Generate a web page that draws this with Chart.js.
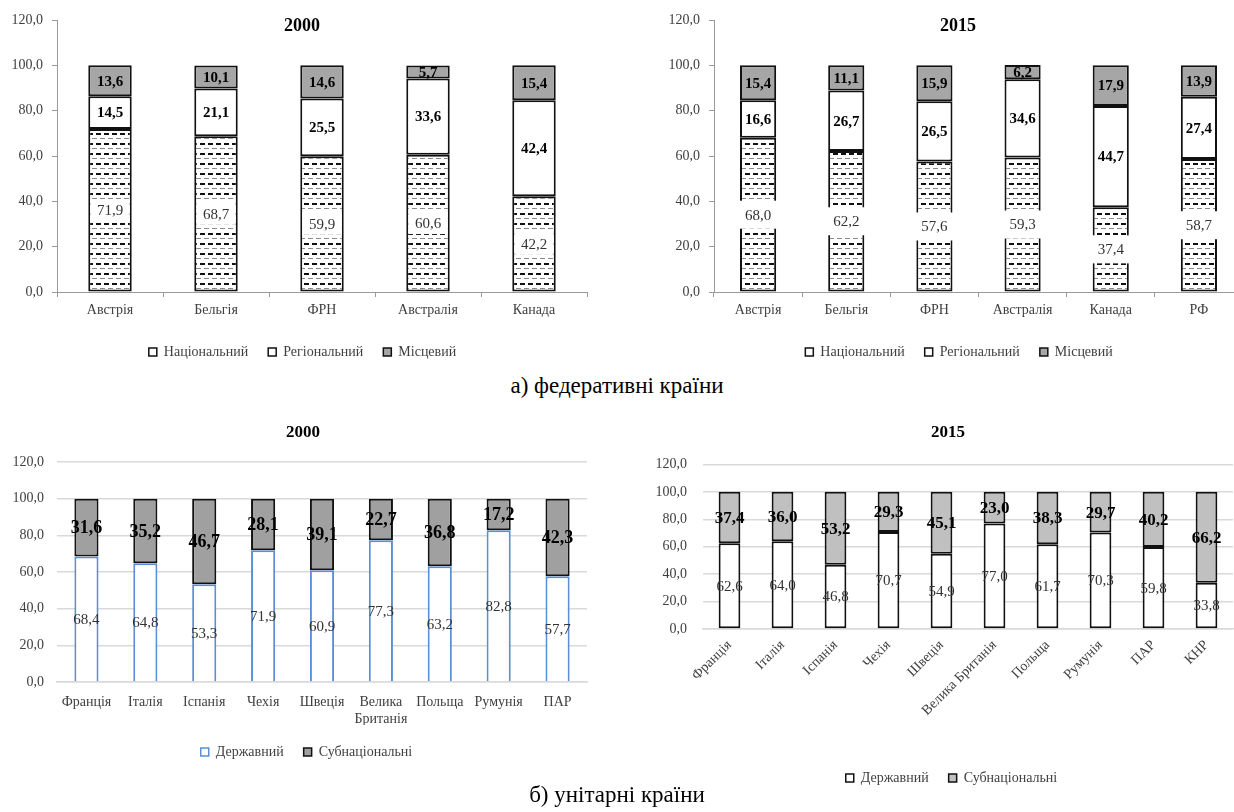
<!DOCTYPE html>
<html>
<head>
<meta charset="utf-8">
<script src="https://cdn.jsdelivr.net/npm/chart.js@4.4.0/dist/chart.umd.min.js"></script>
<style>
  body { margin:0; width:1234px; height:812px; overflow:hidden; background:#fff; position:relative; font-family:"Liberation Serif", serif; }
  .box { position:absolute; }
  .ttl { position:absolute; font-weight:bold; transform:translate(-50%,-50%); color:#000; white-space:nowrap; }
  .cap { position:absolute; font-size:23px; transform:translate(-50%,-50%); color:#000; white-space:nowrap; }
</style>
</head>
<body>
<div class="box" style="left:0;top:0;width:604px;height:369px"><canvas id="c1"></canvas></div>
<div class="box" style="left:657px;top:0;width:602px;height:369px"><canvas id="c2"></canvas></div>
<div class="box" style="left:0;top:440px;width:606px;height:329px"><canvas id="c3"></canvas></div>
<div class="box" style="left:646px;top:440px;width:609px;height:355px"><canvas id="c4"></canvas></div>

<div class="ttl" style="left:302px;top:25px;font-size:18px">2000</div>
<div class="ttl" style="left:958px;top:25px;font-size:18px">2015</div>
<div class="ttl" style="left:303px;top:432px;font-size:17px">2000</div>
<div class="ttl" style="left:948px;top:432px;font-size:17px">2015</div>
<div class="cap" style="left:617px;top:386px">а) федеративні країни</div>
<div class="cap" style="left:617px;top:795px">б) унітарні країни</div>

<script>
// federal countries
const fedCats2000 = ['Австрія', 'Бельгія', 'ФРН', 'Австралія', 'Канада'];
const fedNat2000 = [71.9, 68.7, 59.9, 60.6, 42.2];
const fedReg2000 = [14.5, 21.1, 25.5, 33.6, 42.4];
const fedLoc2000 = [13.6, 10.1, 14.6, 5.7, 15.4];

const fedCats2015 = ['Австрія', 'Бельгія', 'ФРН', 'Австралія', 'Канада', 'РФ'];
const fedNat2015 = [68.0, 62.2, 57.6, 59.3, 37.4, 58.7];
const fedReg2015 = [16.6, 26.7, 26.5, 34.6, 44.7, 27.4];
const fedLoc2015 = [15.4, 11.1, 15.9, 6.2, 17.9, 13.9];

// unitary countries
const unitCats2000 = ['Франція', 'Італія', 'Іспанія', 'Чехія', 'Швеція', ['Велика', 'Британія'], 'Польща', 'Румунія', 'ПАР'];
const unitState2000 = [68.4, 64.8, 53.3, 71.9, 60.9, 77.3, 63.2, 82.8, 57.7];
const unitSub2000 = [31.6, 35.2, 46.7, 28.1, 39.1, 22.7, 36.8, 17.2, 42.3];

const unitCats2015 = ['Франція', 'Італія', 'Іспанія', 'Чехія', 'Швеція', 'Велика Британія', 'Польща', 'Румунія', 'ПАР', 'КНР'];
const unitState2015 = [62.6, 64.0, 46.8, 70.7, 54.9, 77.0, 61.7, 70.3, 59.8, 33.8];
const unitSub2015 = [37.4, 36.0, 53.2, 29.3, 45.1, 23.0, 38.3, 29.7, 40.2, 66.2];

const fedSeries = ['Національний', 'Регіональний', 'Місцевий'];
const unitSeries = ['Державний', 'Субнаціональні'];

const FONT = '"Liberation Serif", serif';
Chart.defaults.font.family = FONT;
Chart.defaults.font.size = 14;
Chart.defaults.color = '#404040';
Chart.defaults.animation = false;

const fmt = v => Number(v).toFixed(1).replace('.', ',');

// dashed fill for the national share
function dashPattern() {
  const c = document.createElement('canvas');
  c.width = 8; c.height = 10;
  const g = c.getContext('2d');
  g.fillStyle = '#fff';
  g.fillRect(0, 0, 8, 10);
  g.fillStyle = '#111';
  g.fillRect(0, 3, 5, 2);
  g.fillStyle = '#8a8a8a';
  g.fillRect(4, 8, 4, 1);
  g.fillRect(0, 8, 1, 1);
  return g.createPattern(c, 'repeat');
}

const valueLabels = {
  id: 'valueLabels',
  afterDatasetsDraw(chart, args, opts) {
    const ctx = chart.ctx;
    chart.data.datasets.forEach((ds, di) => {
      const st = opts.styles[di];
      const meta = chart.getDatasetMeta(di);
      meta.data.forEach((bar, i) => {
        const p = bar.getProps(['x', 'y', 'base', 'width'], true);
        const cy = (p.y + p.base) / 2;
        const txt = fmt(ds.data[i]);
        ctx.save();
        ctx.font = (st.bold ? 'bold ' : '') + st.size + 'px ' + FONT;
        ctx.textAlign = 'center';
        ctx.textBaseline = 'middle';
        if (st.bg) {
          const w = p.width + st.bg.dw;
          ctx.fillStyle = '#fff';
          ctx.fillRect(p.x - w / 2, cy - st.bg.h / 2, w, st.bg.h);
        }
        ctx.fillStyle = st.color;
        ctx.fillText(txt, p.x, cy + 1);
        ctx.restore();
      });
    });
  }
};

// nudge the legend sideways so it sits under the title
const legendShift = {
  id: 'legendShift',
  afterLayout(chart, args, opts) {
    const l = chart.legend;
    if (!l) return;
    l.left += opts.dx;
    l.right += opts.dx;
  }
};

function legendOpts() {
  return {
    position: 'bottom',
    labels: {
      boxWidth: 8, boxHeight: 8, padding: 20,
      font: { size: 14 },
      generateLabels(chart) {
        const items = Chart.defaults.plugins.legend.labels.generateLabels(chart);
        items.forEach(it => {
          if (typeof it.fillStyle !== 'string') it.fillStyle = '#fff';
          it.lineWidth = 1.5;
        });
        return items;
      }
    }
  };
}

function fedChart(id, cats, nat, reg, loc, padR, bg, dx) {
  const pat = dashPattern();
  return new Chart(document.getElementById(id), {
    type: 'bar',
    data: {
      labels: cats,
      datasets: [
        { label: fedSeries[0], data: nat, backgroundColor: pat, borderColor: '#111', borderWidth: 2, borderSkipped: false },
        { label: fedSeries[1], data: reg, backgroundColor: '#fff', borderColor: '#111', borderWidth: 2, borderSkipped: false },
        { label: fedSeries[2], data: loc, backgroundColor: '#a6a6a6', borderColor: '#111', borderWidth: 2, borderSkipped: false }
      ]
    },
    options: {
      responsive: true, maintainAspectRatio: false,
      layout: { padding: { top: 20, right: padR, left: 0, bottom: 0 } },
      datasets: { bar: { categoryPercentage: 1, barPercentage: 0.41 } },
      scales: {
        x: {
          stacked: true,
          ticks: { padding: 5, autoSkip: false, maxRotation: 0 },
          grid: { offset: true, drawOnChartArea: false, tickLength: 5, color: '#9a9a9a' },
          border: { color: '#9a9a9a' },
          afterFit(s) { s.height = 33; }
        },
        y: {
          stacked: true, min: 0, max: 120,
          ticks: { stepSize: 20, padding: 9, callback: v => fmt(v) },
          grid: { drawOnChartArea: false, tickLength: 5, color: '#9a9a9a' },
          border: { color: '#9a9a9a' },
          afterFit(s) { s.width = 57; }
        }
      },
      plugins: {
        legend: legendOpts(),
        legendShift: { dx: dx },
        tooltip: { enabled: false },
        valueLabels: {
          styles: [
            { size: 15, bold: false, color: '#333', bg: bg },
            { size: 15, bold: true, color: '#000' },
            { size: 15, bold: true, color: '#000' }
          ]
        }
      }
    },
    plugins: [valueLabels, legendShift]
  });
}

function unitChart(id, cats, state, sub, o) {
  return new Chart(document.getElementById(id), {
    type: 'bar',
    data: {
      labels: cats,
      datasets: [
        { label: unitSeries[0], data: state, backgroundColor: '#fff', borderColor: o.stateBorder, borderWidth: 2, borderSkipped: o.stateSkip },
        { label: unitSeries[1], data: sub, backgroundColor: o.subFill, borderColor: '#111', borderWidth: 2, borderSkipped: false }
      ]
    },
    options: {
      responsive: true, maintainAspectRatio: false,
      layout: { padding: { top: o.padT, right: o.padR, left: 0, bottom: 0 } },
      datasets: { bar: { categoryPercentage: 1, barPercentage: 0.41 } },
      scales: {
        x: {
          stacked: true,
          ticks: { padding: o.xPad, autoSkip: false, minRotation: o.rot, maxRotation: o.rot },
          grid: { display: false, drawTicks: false },
          border: { color: '#d9d9d9', width: 1.5 },
          afterFit(s) { s.height = o.xH; }
        },
        y: {
          stacked: true, min: 0, max: 120,
          ticks: { stepSize: 20, padding: o.yPad, callback: v => fmt(v) },
          grid: { color: '#d9d9d9', lineWidth: 1.5, drawTicks: false },
          border: { display: false },
          afterFit(s) { s.width = 57; }
        }
      },
      plugins: {
        legend: legendOpts(),
        legendShift: { dx: o.dx },
        tooltip: { enabled: false },
        valueLabels: {
          styles: [
            { size: 15, bold: false, color: '#333' },
            { size: o.boldSize, bold: true, color: '#000' }
          ]
        }
      }
    },
    plugins: [valueLabels, legendShift]
  });
}

fedChart('c1', fedCats2000, fedNat2000, fedReg2000, fedLoc2000, 17, { dw: -4, h: 22 }, 9);
fedChart('c2', fedCats2015, fedNat2015, fedReg2015, fedLoc2015, 16, { dw: 4, h: 28 }, 9);
unitChart('c3', unitCats2000, unitState2000, unitSub2000, {
  stateBorder: '#5b8fd4', stateSkip: 'start', subFill: '#a0a0a0',
  padT: 22, padR: 19, xPad: 12, rot: 0, xH: 43, yPad: 13, boldSize: 18, dx: 13
});
unitChart('c4', unitCats2015, unitState2015, unitSub2015, {
  stateBorder: '#111', stateSkip: false, subFill: '#c0c0c0',
  padT: 23, padR: 22, xPad: 8, rot: 45, xH: 122, yPad: 16, boldSize: 17, dx: 12
});
</script>
</body>
</html>
